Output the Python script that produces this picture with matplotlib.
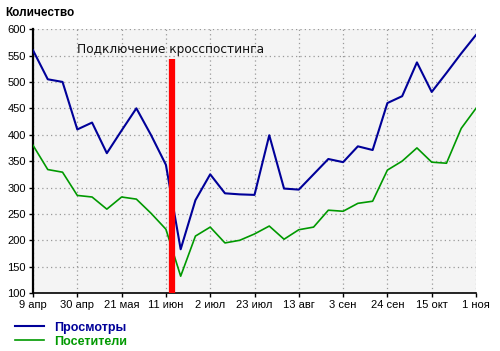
import matplotlib
matplotlib.use("Agg")
import matplotlib.pyplot as plt

weeks = list(range(31))
views = [560, 505, 500, 410, 423, 365, 408, 450, 399, 343, 183, 276, 325, 289, 287, 286,
         399, 298, 296, 325, 354, 348, 378, 371, 460, 473, 537, 481, 517, 554, 589]
visitors = [380, 334, 329, 285, 282, 259, 282, 278, 251, 221, 132, 208, 225, 195, 200, 212,
            227, 202, 220, 225, 257, 255, 270, 274, 333, 350, 375, 348, 346, 412, 450]
tick_pos = [0, 3, 6, 9, 12, 15, 18, 21, 24, 27, 30]
tick_labels = ["9 апр", "30 апр", "21 мая", "11 июн", "2 июл", "23 июл", "13 авг",
               "3 сен", "24 сен", "15 окт", "1 ноя"]
yticks = list(range(100, 601, 50))
event_x = 9.39
event_top = 543
event_label = "Подключение кросспостинга"

plt.rcParams['font.family'] = ['Liberation Sans', 'DejaVu Sans']

fig = plt.figure(figsize=(5.0, 3.51), dpi=100)
ax = fig.add_axes([0.066, 0.165, 0.886, 0.752])
ax.set_facecolor('#f4f4f4')

blue = '#000099'
green = '#009900'
l1, = ax.plot(weeks, views, color=blue, lw=1.5, label='Просмотры', zorder=3)
l2, = ax.plot(weeks, visitors, color=green, lw=1.2, label='Посетители', zorder=3)
ax.plot([event_x, event_x], [100, event_top], color='#ff0000', lw=4.5,
        solid_capstyle='butt', zorder=4)
ax.text(3.0, 562, event_label, fontsize=8.7, family=['DejaVu Sans'], va='center', ha='left',
        color='#111111', zorder=5)

ax.set_xlim(0, 30)
ax.set_ylim(100, 600)
ax.set_xticks(tick_pos)
ax.set_xticklabels(tick_labels, fontsize=8)
ax.set_yticks(yticks)
ax.set_yticklabels([str(v) for v in yticks], fontsize=8)
ax.grid(True, color='#999999', linestyle=(0, (1, 2.5)), lw=0.9)
for s in ['top', 'right']:
    ax.spines[s].set_visible(False)
ax.spines['left'].set_linewidth(1.6)
ax.spines['bottom'].set_linewidth(1.2)
ax.tick_params(axis='both', direction='out', length=3, width=1, pad=2, colors='black')

fig.text(0.01, 0.963, 'Количество', fontsize=8.5, fontweight='bold', va='center', ha='left')

leg = fig.legend(handles=[l1, l2], loc='upper left', bbox_to_anchor=(0.03, 0.083),
                 frameon=False, prop={'weight': 'bold', 'size': 9},
                 handlelength=2.3, handletextpad=0.85, labelspacing=0.15,
                 borderaxespad=0, borderpad=0)
for t, c in zip(leg.get_texts(), [blue, green]):
    t.set_color(c)

fig.savefig('out.png', dpi=100)
